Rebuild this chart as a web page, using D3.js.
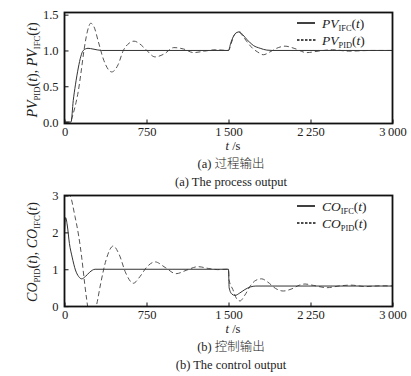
<!DOCTYPE html>
<html>
<head>
<meta charset="utf-8">
<script src="https://cdn.jsdelivr.net/npm/d3@7"></script>
<style>
  body { margin: 0; background: #fff; }
  svg { display: block; }
</style>
</head>
<body>
<div id="chart"></div>
<script>
// tick values
const xTicks = [0, 750, 1500, 2250, 3000]
const pvTicks = [0, 0.5, 1, 1.5]
const coTicks = [0, 1, 2, 3]

// process output
const pvIfcT = [0, 60, 80, 100, 126, 150, 172, 215, 260, 340, 1500, 1520, 1550, 1575, 1600, 1630, 1670, 1727, 1790, 1850, 1900, 3000]
const pvIfcV = [0, 0, 0.3, 0.52, 0.755, 0.92, 1.0, 1.03, 1.02, 1.0, 1.0, 1.1, 1.21, 1.25, 1.26, 1.22, 1.15, 1.07, 1.03, 1.005, 1.0, 1.0]
const pvPidT = [0, 50, 80, 105, 126, 150, 178, 210, 240, 270, 310, 360, 432, 490, 538, 590, 636, 690, 740, 828, 910, 1000, 1090, 1180, 1280, 1380, 1500, 1525, 1555, 1590, 1620, 1670, 1720, 1765, 1818, 1880, 1940, 2017, 2100, 2215, 2320, 2450, 2600, 2800, 3000]
const pvPidV = [0, 0, 0.12, 0.27, 0.43, 0.68, 1.0, 1.27, 1.38, 1.33, 1.12, 0.86, 0.70, 0.8, 1.0, 1.1, 1.13, 1.09, 1.02, 0.91, 0.95, 1.04, 1.02, 0.97, 0.99, 1.01, 1.0, 1.1, 1.22, 1.26, 1.22, 1.12, 1.03, 0.98, 0.94, 0.98, 1.03, 1.06, 1.03, 0.97, 0.99, 1.01, 0.99, 1.0, 1.0]

// control output
const coIfcT = [0, 10, 25, 45, 70, 100, 130, 157, 190, 230, 280, 1500, 1506, 1530, 1560, 1600, 1650, 1700, 1750, 3000]
const coIfcV = [2.0, 2.4, 2.2, 1.7, 1.33, 0.98, 0.8, 0.74, 0.8, 0.92, 1.0, 1.0, 0.5, 0.33, 0.29, 0.35, 0.45, 0.52, 0.545, 0.545]
const coPidT = [25, 50, 96, 130, 157, 185, 203, 230, 260, 294, 330, 380, 446, 500, 560, 629, 690, 750, 828, 920, 1020, 1120, 1220, 1320, 1400, 1480, 1500, 1506, 1540, 1575, 1605, 1650, 1700, 1750, 1803, 1860, 1930, 2001, 2080, 2150, 2200, 2280, 2400, 2520, 2620, 2750, 2880, 3000]
const coPidV = [3.05, 3.0, 2.43, 1.9, 1.33, 0.6, 0.18, -0.3, -0.3, 0.04, 0.6, 1.25, 1.63, 1.4, 0.9, 0.62, 0.8, 1.05, 1.2, 1.05, 0.88, 0.98, 1.07, 1.02, 0.99, 1.0, 1.0, 0.7, 0.45, 0.2, 0.14, 0.3, 0.55, 0.7, 0.74, 0.65, 0.48, 0.41, 0.47, 0.57, 0.6, 0.56, 0.5, 0.55, 0.57, 0.53, 0.55, 0.55]

const serif = "'Liberation Serif', 'Times New Roman', serif"
const cjk = "'Noto Sans CJK SC', sans-serif"

let svg = d3.select("#chart").append("svg")
    .attr("width", 411)
    .attr("height", 376)

let x = d3.scaleLinear().domain([0, 3000]).range([64.5, 392.5])

function fmtX(d){
    if (d >= 1000){
        let s = String(d)
        return s.slice(0, s.length - 3) + "\u2009" + s.slice(s.length - 3)
    }
    return String(d)
}

// writes pieces like PV + subscript PID + (t)
function richText(sel, parts, size){
    parts.forEach(function(p){
        let ts = sel.append("tspan").text(p.t)
        if (p.i) ts.style("font-style", "italic")
        if (p.sub){
            ts.style("font-size", (size * 0.62) + "px").attr("dy", 3)
        }
        if (p.up) ts.attr("dy", -3)
    })
}

function seriesParts(name, sub){
    return [{t: name, i: true}, {t: sub, sub: true}, {t: "(", up: true}, {t: "t", i: true}, {t: ")"}]
}

function drawPanel(cfg){
    let y = d3.scaleLinear().domain(cfg.yDomain).range([cfg.y1, cfg.y0])
    let g = svg.append("g")

    g.append("clipPath").attr("id", cfg.id)
        .append("rect")
        .attr("x", 64.5).attr("y", cfg.y0)
        .attr("width", 328).attr("height", cfg.y1 - cfg.y0)

    let xAxis = g.append("g")
        .attr("transform", "translate(0," + cfg.y1 + ")")
        .call(d3.axisBottom(x).tickValues(xTicks).tickSize(-4).tickPadding(3.5).tickFormat(fmtX))
    let yAxis = g.append("g")
        .attr("transform", "translate(64.5,0)")
        .call(d3.axisLeft(y).tickValues(cfg.yTicks).tickSize(-4).tickPadding(6).tickFormat(cfg.yFmt))
    ;[xAxis, yAxis].forEach(function(a){
        a.select(".domain").remove()
        a.selectAll("line").attr("stroke", "#111")
        a.selectAll("text").style("font-family", serif).style("font-size", "12.5px").attr("fill", "#222")
    })

    let line = d3.line()
        .x(function(d){ return x(d[0]) })
        .y(function(d){ return y(d[1]) })
        .curve(d3.curveMonotoneX)

    let dashed = d3.zip(cfg.pidT, cfg.pidV)
    let solid = d3.zip(cfg.ifcT, cfg.ifcV)

    g.append("path").datum(dashed)
        .attr("clip-path", "url(#" + cfg.id + ")")
        .attr("d", line)
        .attr("fill", "none")
        .attr("stroke", "#555")
        .attr("stroke-width", 1)
        .attr("stroke-dasharray", "5,3")
    g.append("path").datum(solid)
        .attr("clip-path", "url(#" + cfg.id + ")")
        .attr("d", line)
        .attr("fill", "none")
        .attr("stroke", "#333")
        .attr("stroke-width", 1)

    // frame
    g.append("rect")
        .attr("x", 64.5).attr("y", cfg.y0)
        .attr("width", 328).attr("height", cfg.y1 - cfg.y0)
        .attr("fill", "none")
        .attr("stroke", "#111")
        .attr("stroke-width", 1.8)

    // legend
    let ly = cfg.y0 + 10.5
    g.append("line").attr("x1", 297).attr("x2", 315).attr("y1", ly).attr("y2", ly)
        .attr("stroke", "#111").attr("stroke-width", 1.6)
    g.append("line").attr("x1", 297).attr("x2", 316).attr("y1", ly + 17).attr("y2", ly + 17)
        .attr("stroke", "#111").attr("stroke-width", 1.3).attr("stroke-dasharray", "2.5,1.5")
    let lt1 = g.append("text").attr("x", 322).attr("y", ly + 4.5)
        .style("font-family", serif).style("font-size", "13.5px").attr("fill", "#222")
    richText(lt1, seriesParts(cfg.name, "IFC"), 13.5)
    let lt2 = g.append("text").attr("x", 322).attr("y", ly + 21.5)
        .style("font-family", serif).style("font-size", "13.5px").attr("fill", "#222")
    richText(lt2, seriesParts(cfg.name, "PID"), 13.5)

    // y title, rotated
    let yt = g.append("text")
        .attr("transform", "translate(37," + cfg.yMid + ")rotate(-90)")
        .attr("text-anchor", "middle")
        .style("font-family", serif).style("font-size", "14px").attr("fill", "#222")
    let parts = seriesParts(cfg.name, "PID")
    parts.push({t: ", "})
    seriesParts(cfg.name, "IFC").forEach(function(p){ parts.push(p) })
    richText(yt, parts, 14)

    // x title
    let xt = g.append("text").attr("x", 233).attr("y", cfg.y1 + 26.5)
        .attr("text-anchor", "middle")
        .style("font-family", serif).style("font-size", "12.5px").attr("fill", "#222")
    xt.append("tspan").text("t").style("font-style", "italic")
    xt.append("tspan").text(" /s")

    // captions
    let c1 = g.append("text").attr("x", 231).attr("y", cfg.y1 + 44)
        .attr("text-anchor", "middle")
        .style("font-size", "12.5px").attr("fill", "#222")
    c1.append("tspan").text(cfg.tag + " ").style("font-family", serif)
    c1.append("tspan").text(cfg.zh).style("font-family", cjk).style("font-weight", 300)
    g.append("text").attr("x", 231).attr("y", cfg.y1 + 62)
        .attr("text-anchor", "middle")
        .style("font-family", serif).style("font-size", "12.5px").attr("fill", "#222")
        .text(cfg.tag + " " + cfg.en)
}

drawPanel({
    id: "clipA", y0: 12.5, y1: 123.5, yDomain: [-0.02, 1.53], yTicks: pvTicks,
    yFmt: d3.format(".1f"), yMid: 70, name: "PV",
    ifcT: pvIfcT, ifcV: pvIfcV, pidT: pvPidT, pidV: pvPidV,
    tag: "(a)", zh: "过程输出", en: "The process output"
})

drawPanel({
    id: "clipB", y0: 195.5, y1: 306.5, yDomain: [-0.01, 3.0], yTicks: coTicks,
    yFmt: d3.format("d"), yMid: 252, name: "CO",
    ifcT: coIfcT, ifcV: coIfcV, pidT: coPidT, pidV: coPidV,
    tag: "(b)", zh: "控制输出", en: "The control output"
})
</script>
</body>
</html>
